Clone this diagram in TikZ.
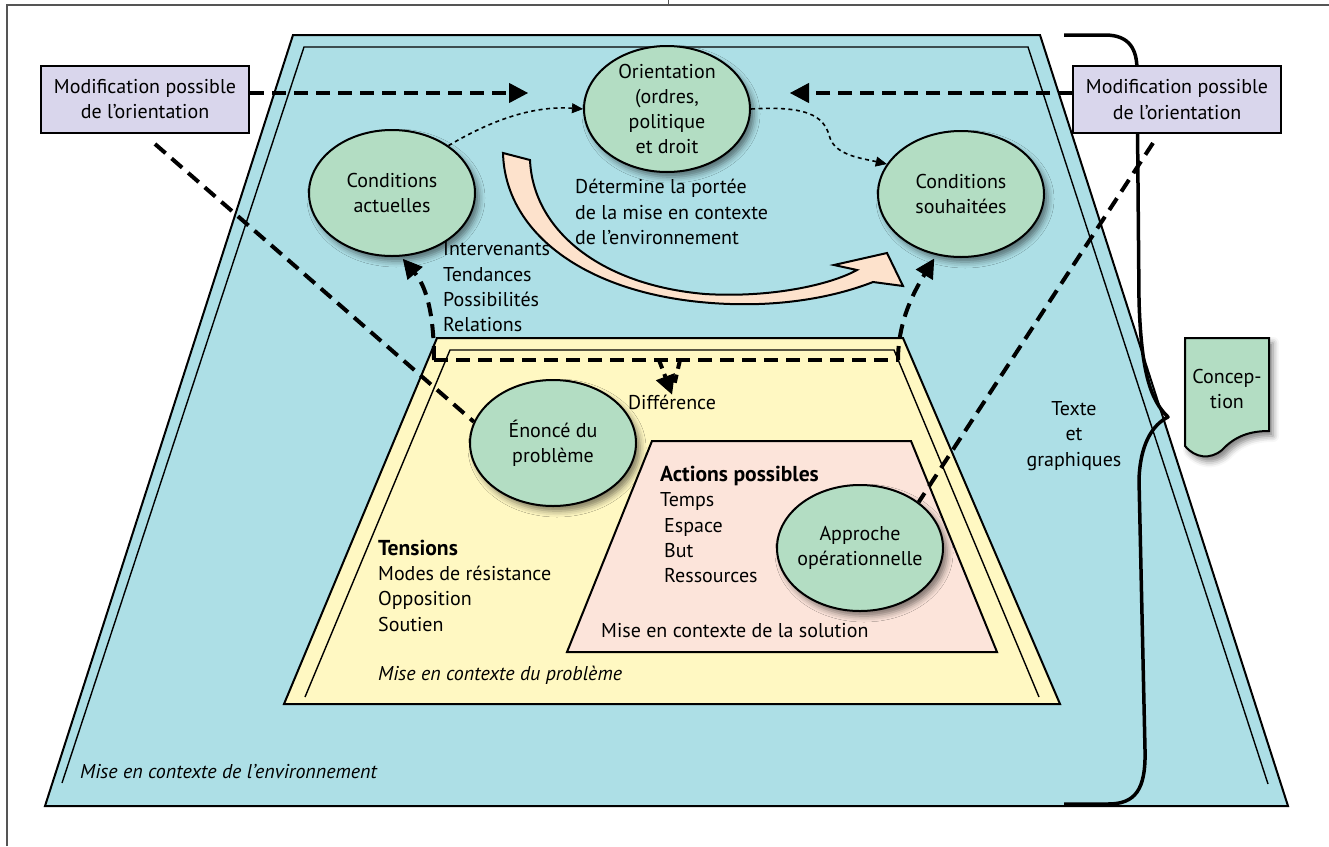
\documentclass[tikz,border=0pt]{standalone}
\usepackage{fontspec}
\setmainfont{PT Sans}
\usetikzlibrary{arrows.meta,shapes.geometric,shadows.blur}

\definecolor{envblue}{HTML}{ADDFE6}
\definecolor{probyellow}{HTML}{FFF8C2}
\definecolor{solpink}{HTML}{FCE4DA}
\definecolor{ovalgreen}{HTML}{B3DDC3}
\definecolor{boxlilac}{HTML}{D9D6EC}
\definecolor{arrowpeach}{HTML}{FDE2CC}
\definecolor{framegray}{HTML}{555555}

\newcommand\dfont{\fontsize{20}{25.3}\selectfont}
\newcommand\hd[1]{{\fontsize{21.6}{25.3}\selectfont\bfseries #1}}

\tikzset{
  softshadow/.style={blur shadow={shadow xshift=4pt, shadow yshift=-5pt,
      shadow blur radius=6pt, shadow opacity=50}},
  oval/.style={ellipse, draw, line width=2pt, fill=ovalgreen,
      minimum width=166pt, minimum height=126pt, inner sep=-20pt,
      align=center, font=\dfont, softshadow},
  modbox/.style={rectangle, draw, line width=2pt, fill=boxlilac,
      minimum width=208pt, minimum height=67pt, align=center, font=\dfont},
  label/.style={font=\dfont, inner sep=0pt},
  listtext/.style={font=\dfont, inner sep=0pt, align=left, anchor=west},
  bigdash/.style={line width=4pt, dash pattern=on 14pt off 8pt},
  bigtip/.style={-{Triangle[length=19pt,width=20pt,line width=1pt,fill=black,color=black]}},
  smalldot/.style={line width=1.6pt, dash pattern=on 4pt off 3.5pt,
      -{Triangle[length=11pt,width=10pt,line width=0.6pt,fill=black,color=black]}},
  trapline/.style={line width=2pt},
  innerline/.style={line width=1.4pt},
}

\begin{document}
\begin{tikzpicture}[x=1pt, y=-1pt]
\useasboundingbox (0,0) rectangle (1329,846);

% page frame
\draw[framegray, line width=1.2pt] (7,846) -- (7,5) -- (1329,5);
\draw[framegray, line width=1pt] (668,0) -- (668,5);

% environment layer
\draw[trapline, fill=envblue] (293,35) -- (1040,35) -- (1288,806) -- (45,806) -- cycle;
\draw[innerline] (62,783) -- (304,47) -- (1028,47) -- (1268,784);

% problem layer
\draw[trapline, fill=probyellow] (437,338) -- (903,338) -- (1060,704) -- (284,704) -- cycle;
\draw[innerline] (305,697) -- (450,350) -- (894,350) -- (1039,697);

% solution layer
\draw[trapline, fill=solpink] (652,441) -- (911,441) -- (997,652) -- (567,652) -- cycle;

% large curved arrow
\draw[line width=2pt, fill=arrowpeach, line join=miter]
  (503,153) -- (530,160)
  .. controls (533,230) and (600,285) .. (705,294)
  .. controls (770,298) and (830,285) .. (857,270)
  -- (834,265) -- (887,253) -- (903,286) -- (873,282)
  .. controls (840,295) and (780,310) .. (700,302)
  .. controls (580,290) and (505,230) .. (503,153) -- cycle;

% brace on the right
\draw[line width=3.5pt, line join=round]
  (1064,35) -- (1105,35) .. controls (1130,35) and (1137,50) .. (1137,70)
  -- (1139,300) .. controls (1141,370) and (1150,400) .. (1168,417)
  .. controls (1152,425) and (1140,445) .. (1139,480)
  -- (1145,750) .. controls (1146,790) and (1135,804) .. (1108,804)
  -- (1064,804);

% ovals
\node[oval] (orientation) at (667,109) {Orientation\\(ordres,\\politique\\et droit};
\node[oval] (actuelles) at (392,193) {Conditions\\actuelles};
\node[oval] (souhaitees) at (961,194) {Conditions\\souhaitées};
\node[oval] (enonce) at (553,443) {Énoncé du\\problème};
\node[oval] (approche) at (860,548) {Approche\\opérationnelle};

% boxes
\node[modbox] (lbox) at (145,99) {Modification possible\\de l’orientation};
\node[modbox] (rbox) at (1177,99.5) {Modification possible\\de l’orientation};

% document shape
\draw[line width=2pt, fill=ovalgreen, softshadow]
  (1185,338) -- (1269,338) -- (1269,431)
  .. controls (1250,431) and (1235,436) .. (1222,450)
  .. controls (1210,460) and (1195,458) .. (1185,446) -- cycle;
\node[label, align=center] (concept) at (1227,389) {Concep-\\tion};

% texts
\node[listtext] (facteurs) at (443,287) {Intervenants\\Tendances\\Possibilités\\Relations};
\node[listtext] (portee) at (575,212) {Détermine la portée\\de la mise en contexte\\de l’environnement};
\node[label] (diffl) at (672,402) {Différence};
\node[listtext] (tensions) at (378,585.5) {\hd{Tensions}\\Modes de résistance\\Opposition\\Soutien};
\node[listtext] (actions) at (660,524.5) {\hd{Actions possibles}\\Temps\\\hspace{4pt}Espace\\\hspace{4pt}But\\\hspace{4pt}Ressources};
\node[listtext] (solctx) at (601,631) {Mise en contexte de la solution};
\node[listtext] (probctx) at (378,675) {\itshape Mise en contexte du problème};
\node[listtext] (envctx) at (80,772) {\itshape Mise en contexte de l’environnement};
\node[label, align=center] (texte) at (1074,436) {Texte\\et\\graphiques};

% connector end points
\coordinate (ltip) at (528,93);
\coordinate (rtip) at (790,93);
\coordinate (lfoot) at (155,144);
\coordinate (rfoot) at (1153,143);
\coordinate (dL) at (434,360);
\coordinate (dR) at (898,360);
\coordinate (vL) at (659,360);
\coordinate (vR) at (680,360);

% dashed connectors
\draw[bigdash, bigtip] (lbox.east |- ltip) -- (ltip);
\draw[bigdash, bigtip] (rbox.west |- rtip) -- (rtip);
\draw[bigdash] (lfoot) -- (enonce.165);
\draw[bigdash] (rfoot) -- (approche.38);
\draw[bigdash] (dL) -- (dR);
\draw[bigdash, bigtip, shorten >=3pt] (dL) .. controls (434,310) and (425,285) .. (actuelles.278);
\draw[bigdash, bigtip, shorten >=4pt] (dR) .. controls (898,320) and (915,290) .. (souhaitees.248);
\draw[line width=4pt, dash pattern=on 9pt off 6pt, bigtip] (vL) -- (diffl.north);
\draw[line width=4pt, dash pattern=on 9pt off 6pt, shorten >=12pt] (vR) -- (diffl.north);

% dotted connectors
\draw[smalldot] (actuelles.40) .. controls (500,115) and (540,106) .. (orientation.west);
\draw[smalldot] (orientation.east) .. controls (815,105) and (825,120) .. (830,138)
  .. controls (836,155) and (860,158) .. (souhaitees.158);
\end{tikzpicture}
\end{document}
